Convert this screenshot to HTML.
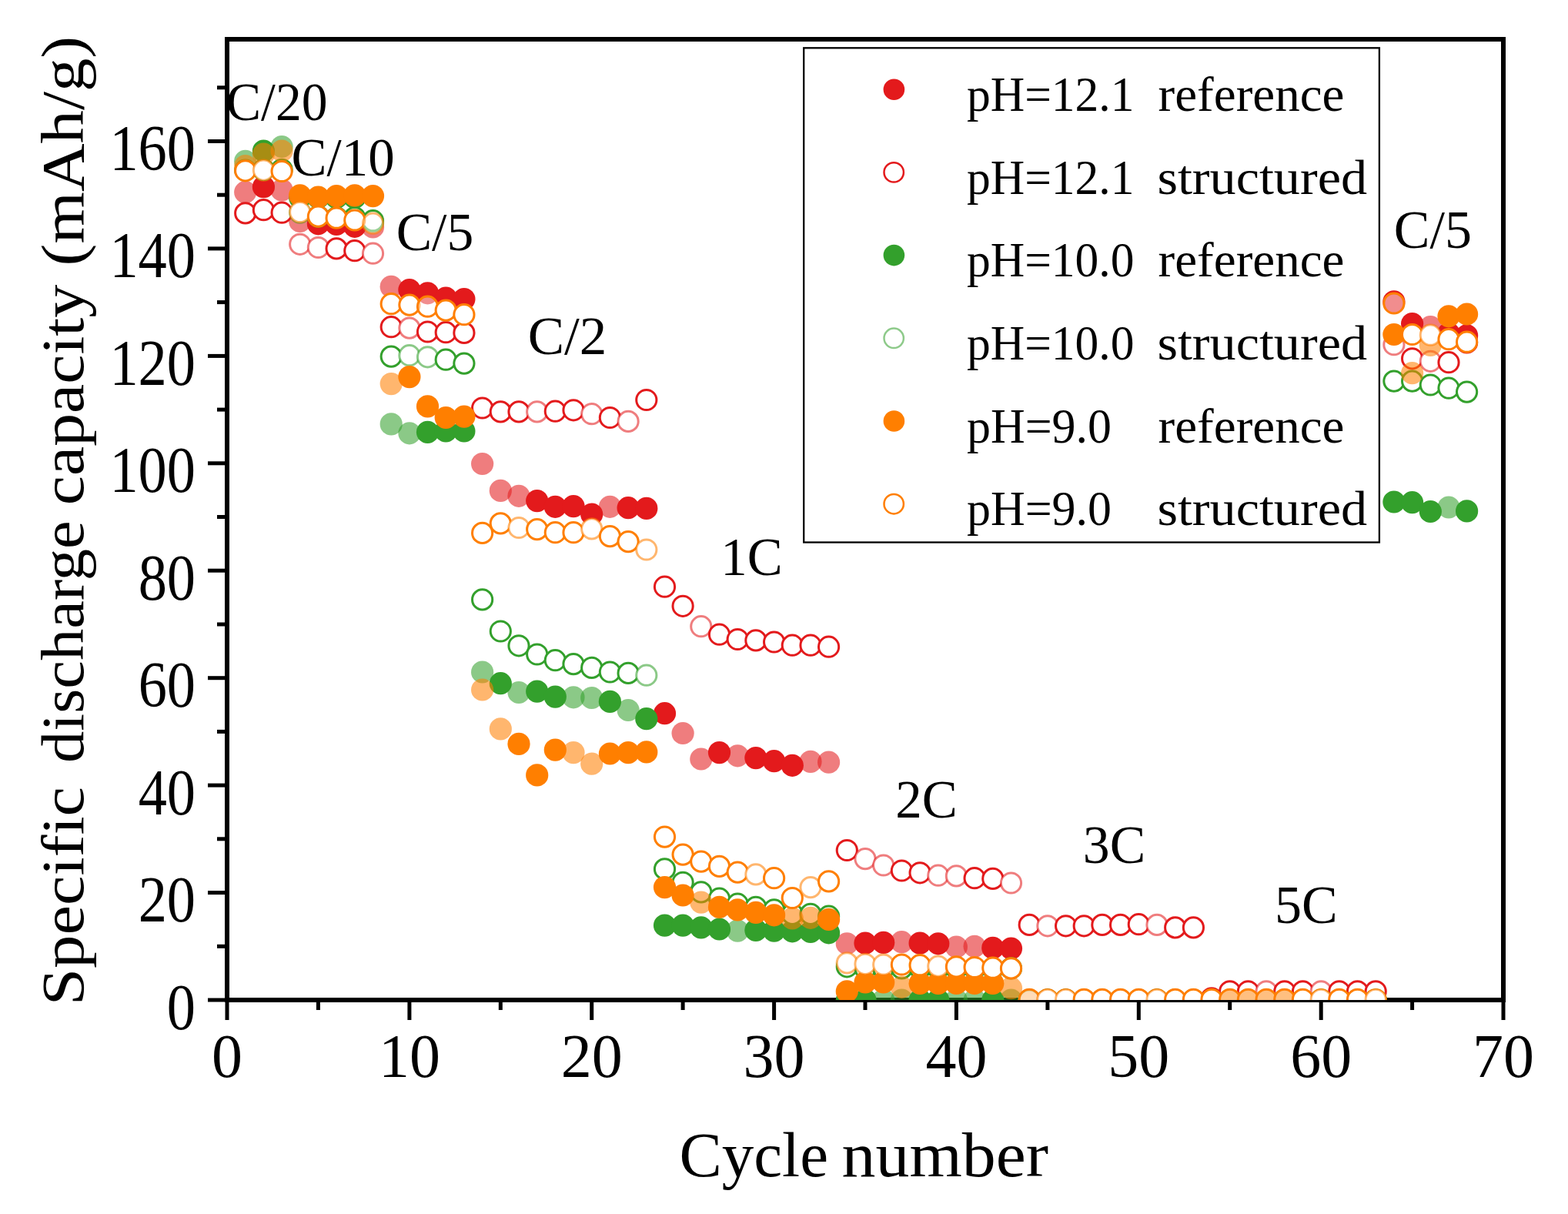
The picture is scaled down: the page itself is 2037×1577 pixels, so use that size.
<!DOCTYPE html>
<html><head><meta charset="utf-8"><title>Specific discharge capacity vs cycle number</title>
<style>html,body{margin:0;padding:0;background:#fff;overflow:hidden}svg{display:block}</style>
</head><body>
<svg width="2037" height="1577" viewBox="0 0 2037 1577">
<defs><clipPath id="pc"><rect x="295" y="51" width="1658" height="1248"/></clipPath></defs>
<rect x="0" y="0" width="2037" height="1577" fill="#fff"/>
<g fill="#000"><rect x="270" y="1296.5" width="25" height="5"/><rect x="282" y="1226.8" width="13" height="5"/><rect x="270" y="1157.1" width="25" height="5"/><rect x="282" y="1087.3" width="13" height="5"/><rect x="270" y="1017.6" width="25" height="5"/><rect x="282" y="947.9" width="13" height="5"/><rect x="270" y="878.2" width="25" height="5"/><rect x="282" y="808.5" width="13" height="5"/><rect x="270" y="738.7" width="25" height="5"/><rect x="282" y="669.0" width="13" height="5"/><rect x="270" y="599.3" width="25" height="5"/><rect x="282" y="529.6" width="13" height="5"/><rect x="270" y="459.9" width="25" height="5"/><rect x="282" y="390.1" width="13" height="5"/><rect x="270" y="320.4" width="25" height="5"/><rect x="282" y="250.7" width="13" height="5"/><rect x="270" y="181.0" width="25" height="5"/><rect x="282" y="111.3" width="13" height="5"/><rect x="292.5" y="1299" width="5" height="26"/><rect x="410.9" y="1299" width="5" height="13"/><rect x="529.4" y="1299" width="5" height="26"/><rect x="647.8" y="1299" width="5" height="13"/><rect x="766.2" y="1299" width="5" height="26"/><rect x="884.6" y="1299" width="5" height="13"/><rect x="1003.1" y="1299" width="5" height="26"/><rect x="1121.5" y="1299" width="5" height="13"/><rect x="1239.9" y="1299" width="5" height="26"/><rect x="1358.4" y="1299" width="5" height="13"/><rect x="1476.8" y="1299" width="5" height="26"/><rect x="1595.2" y="1299" width="5" height="13"/><rect x="1713.7" y="1299" width="5" height="26"/><rect x="1832.1" y="1299" width="5" height="13"/><rect x="1950.5" y="1299" width="5" height="26"/></g>
<rect x="295" y="51" width="1658" height="1248" fill="none" stroke="#000" stroke-width="6"/>
<g font-family="'Liberation Serif', 'DejaVu Serif', serif" font-size="85" fill="#000"><text transform="translate(254,1336.5) scale(0.875,1)" text-anchor="end">0</text><text transform="translate(254,1197.1) scale(0.875,1)" text-anchor="end">20</text><text transform="translate(254,1057.6) scale(0.875,1)" text-anchor="end">40</text><text transform="translate(254,918.2) scale(0.875,1)" text-anchor="end">60</text><text transform="translate(254,778.7) scale(0.875,1)" text-anchor="end">80</text><text transform="translate(254,639.3) scale(0.875,1)" text-anchor="end">100</text><text transform="translate(254,499.9) scale(0.875,1)" text-anchor="end">120</text><text transform="translate(254,360.4) scale(0.875,1)" text-anchor="end">140</text><text transform="translate(254,221.0) scale(0.875,1)" text-anchor="end">160</text></g>
<g font-family="'Liberation Serif', 'DejaVu Serif', serif" font-size="80" fill="#000"><text x="295.0" y="1399" text-anchor="middle">0</text><text x="531.9" y="1399" text-anchor="middle">10</text><text x="768.7" y="1399" text-anchor="middle">20</text><text x="1005.6" y="1399" text-anchor="middle">30</text><text x="1242.4" y="1399" text-anchor="middle">40</text><text x="1479.3" y="1399" text-anchor="middle">50</text><text x="1716.2" y="1399" text-anchor="middle">60</text><text x="1953.0" y="1399" text-anchor="middle">70</text></g>
<g font-family="'Liberation Serif', 'DejaVu Serif', serif" font-size="82"><text x="882.4" y="1528" textLength="193.6" lengthAdjust="spacingAndGlyphs">Cycle</text><text x="1093.6" y="1528" textLength="268.4" lengthAdjust="spacingAndGlyphs">number</text></g>
<g font-family="'Liberation Serif', 'DejaVu Serif', serif" font-size="78"><text transform="translate(107.5,1306.2) rotate(-90)" textLength="284.2" lengthAdjust="spacingAndGlyphs">Specific</text><text transform="translate(107.5,991.0) rotate(-90)" textLength="314.6" lengthAdjust="spacingAndGlyphs">discharge</text><text transform="translate(107.5,656.2) rotate(-90)" textLength="286.4" lengthAdjust="spacingAndGlyphs">capacity</text><text transform="translate(107.5,345.4) rotate(-90)" textLength="298.6" lengthAdjust="spacingAndGlyphs">(mAh/g)</text></g>
<g font-family="'Liberation Serif', 'DejaVu Serif', serif" font-size="69" fill="#000"><text x="294.0" y="156" textLength="131.5" lengthAdjust="spacingAndGlyphs">C/20</text><text x="378.6" y="228" textLength="134.0" lengthAdjust="spacingAndGlyphs">C/10</text><text x="514.7" y="325" textLength="100.6" lengthAdjust="spacingAndGlyphs">C/5</text><text x="685.7" y="459.8" textLength="102.6" lengthAdjust="spacingAndGlyphs">C/2</text><text x="936.2" y="747" textLength="80.4" lengthAdjust="spacingAndGlyphs">1C</text><text x="1163.2" y="1061.9" textLength="80.5" lengthAdjust="spacingAndGlyphs">2C</text><text x="1406.8" y="1120.8" textLength="81.4" lengthAdjust="spacingAndGlyphs">3C</text><text x="1656.0" y="1198.8" textLength="81.7" lengthAdjust="spacingAndGlyphs">5C</text><text x="1810.8" y="322.4" textLength="101.2" lengthAdjust="spacingAndGlyphs">C/5</text></g>
<rect x="1044.2" y="62.3" width="747.7" height="642.2" fill="#fff" stroke="#000" stroke-width="2.3"/>
<circle cx="1161.4" cy="116.2" r="13.8" fill="#e31a1c"/>
<circle cx="1161.2" cy="223.9" r="12.7" fill="#fff" stroke="#e31a1c" stroke-width="2.5"/>
<circle cx="1161.4" cy="331.6" r="13.8" fill="#33a02c"/>
<circle cx="1161.2" cy="439.3" r="12.7" fill="#fff" stroke="#33a02c" stroke-width="2.5" opacity=".55"/>
<circle cx="1161.4" cy="547.0" r="13.8" fill="#ff7f00"/>
<circle cx="1161.2" cy="654.7" r="12.7" fill="#fff" stroke="#ff7f00" stroke-width="2.5"/>
<g font-family="'Liberation Serif', 'DejaVu Serif', serif" font-size="63" fill="#000"><text x="1256" y="143.9" textLength="217.5" lengthAdjust="spacingAndGlyphs">pH=12.1</text><text x="1504.6" y="143.9" textLength="241.8" lengthAdjust="spacingAndGlyphs">reference</text><text x="1256" y="251.6" textLength="217.5" lengthAdjust="spacingAndGlyphs">pH=12.1</text><text x="1503.4" y="251.6" textLength="272.6" lengthAdjust="spacingAndGlyphs">structured</text><text x="1256" y="359.3" textLength="217.5" lengthAdjust="spacingAndGlyphs">pH=10.0</text><text x="1504.6" y="359.3" textLength="241.8" lengthAdjust="spacingAndGlyphs">reference</text><text x="1256" y="467.0" textLength="217.5" lengthAdjust="spacingAndGlyphs">pH=10.0</text><text x="1503.4" y="467.0" textLength="272.6" lengthAdjust="spacingAndGlyphs">structured</text><text x="1256" y="574.7" textLength="188" lengthAdjust="spacingAndGlyphs">pH=9.0</text><text x="1504.6" y="574.7" textLength="241.8" lengthAdjust="spacingAndGlyphs">reference</text><text x="1256" y="682.4" textLength="188" lengthAdjust="spacingAndGlyphs">pH=9.0</text><text x="1503.4" y="682.4" textLength="272.6" lengthAdjust="spacingAndGlyphs">structured</text></g>
<g clip-path="url(#pc)">
<circle cx="318.7" cy="249.7" r="14.6" fill="#e31a1c" opacity=".57"/>
<circle cx="342.4" cy="242.7" r="14.6" fill="#e31a1c"/>
<circle cx="366.1" cy="246.9" r="14.6" fill="#e31a1c" opacity=".57"/>
<circle cx="389.7" cy="287.4" r="14.6" fill="#e31a1c" opacity=".57"/>
<circle cx="413.4" cy="290.8" r="14.6" fill="#e31a1c"/>
<circle cx="437.1" cy="291.5" r="14.6" fill="#e31a1c"/>
<circle cx="460.8" cy="294.3" r="14.6" fill="#e31a1c"/>
<circle cx="484.5" cy="295.0" r="14.6" fill="#e31a1c" opacity=".57"/>
<circle cx="508.2" cy="372.4" r="14.6" fill="#e31a1c" opacity=".57"/>
<circle cx="531.9" cy="376.6" r="14.6" fill="#e31a1c"/>
<circle cx="555.5" cy="380.8" r="14.6" fill="#e31a1c"/>
<circle cx="579.2" cy="387.1" r="14.6" fill="#e31a1c"/>
<circle cx="602.9" cy="388.5" r="14.6" fill="#e31a1c"/>
<circle cx="626.6" cy="602.5" r="14.6" fill="#e31a1c" opacity=".57"/>
<circle cx="650.3" cy="637.4" r="14.6" fill="#e31a1c" opacity=".57"/>
<circle cx="674.0" cy="644.3" r="14.6" fill="#e31a1c" opacity=".57"/>
<circle cx="697.7" cy="650.6" r="14.6" fill="#e31a1c"/>
<circle cx="721.3" cy="658.3" r="14.6" fill="#e31a1c"/>
<circle cx="745.0" cy="657.6" r="14.6" fill="#e31a1c"/>
<circle cx="768.7" cy="668.0" r="14.6" fill="#e31a1c"/>
<circle cx="792.4" cy="658.3" r="14.6" fill="#e31a1c" opacity=".57"/>
<circle cx="816.1" cy="659.7" r="14.6" fill="#e31a1c"/>
<circle cx="839.8" cy="660.4" r="14.6" fill="#e31a1c"/>
<circle cx="863.5" cy="926.7" r="14.6" fill="#e31a1c"/>
<circle cx="887.1" cy="952.5" r="14.6" fill="#e31a1c" opacity=".57"/>
<circle cx="910.8" cy="986.0" r="14.6" fill="#e31a1c" opacity=".57"/>
<circle cx="934.5" cy="977.6" r="14.6" fill="#e31a1c"/>
<circle cx="958.2" cy="981.8" r="14.6" fill="#e31a1c" opacity=".57"/>
<circle cx="981.9" cy="984.6" r="14.6" fill="#e31a1c"/>
<circle cx="1005.6" cy="988.7" r="14.6" fill="#e31a1c"/>
<circle cx="1029.3" cy="994.3" r="14.6" fill="#e31a1c"/>
<circle cx="1053.0" cy="989.4" r="14.6" fill="#e31a1c" opacity=".57"/>
<circle cx="1076.6" cy="990.1" r="14.6" fill="#e31a1c" opacity=".57"/>
<circle cx="1100.3" cy="1225.8" r="14.6" fill="#e31a1c" opacity=".57"/>
<circle cx="1124.0" cy="1225.1" r="14.6" fill="#e31a1c"/>
<circle cx="1147.7" cy="1224.4" r="14.6" fill="#e31a1c"/>
<circle cx="1171.4" cy="1223.7" r="14.6" fill="#e31a1c" opacity=".57"/>
<circle cx="1195.1" cy="1225.1" r="14.6" fill="#e31a1c"/>
<circle cx="1218.8" cy="1225.8" r="14.6" fill="#e31a1c"/>
<circle cx="1242.4" cy="1230.0" r="14.6" fill="#e31a1c" opacity=".57"/>
<circle cx="1266.1" cy="1229.3" r="14.6" fill="#e31a1c" opacity=".57"/>
<circle cx="1289.8" cy="1231.4" r="14.6" fill="#e31a1c"/>
<circle cx="1313.5" cy="1232.1" r="14.6" fill="#e31a1c"/>
<circle cx="1337.2" cy="1299.0" r="14.6" fill="#e31a1c"/>
<circle cx="1360.9" cy="1299.0" r="14.6" fill="#e31a1c"/>
<circle cx="1384.6" cy="1299.0" r="14.6" fill="#e31a1c"/>
<circle cx="1408.2" cy="1299.0" r="14.6" fill="#e31a1c"/>
<circle cx="1431.9" cy="1299.0" r="14.6" fill="#e31a1c"/>
<circle cx="1455.6" cy="1299.0" r="14.6" fill="#e31a1c"/>
<circle cx="1479.3" cy="1299.0" r="14.6" fill="#e31a1c"/>
<circle cx="1503.0" cy="1299.0" r="14.6" fill="#e31a1c"/>
<circle cx="1526.7" cy="1299.0" r="14.6" fill="#e31a1c"/>
<circle cx="1550.4" cy="1299.0" r="14.6" fill="#e31a1c"/>
<circle cx="1574.0" cy="1299.0" r="14.6" fill="#e31a1c"/>
<circle cx="1597.7" cy="1299.0" r="14.6" fill="#e31a1c"/>
<circle cx="1621.4" cy="1299.0" r="14.6" fill="#e31a1c"/>
<circle cx="1645.1" cy="1299.0" r="14.6" fill="#e31a1c"/>
<circle cx="1668.8" cy="1299.0" r="14.6" fill="#e31a1c"/>
<circle cx="1692.5" cy="1299.0" r="14.6" fill="#e31a1c"/>
<circle cx="1716.2" cy="1299.0" r="14.6" fill="#e31a1c"/>
<circle cx="1739.8" cy="1299.0" r="14.6" fill="#e31a1c"/>
<circle cx="1763.5" cy="1299.0" r="14.6" fill="#e31a1c"/>
<circle cx="1787.2" cy="1299.0" r="14.6" fill="#e31a1c"/>
<circle cx="1810.9" cy="391.9" r="14.6" fill="#e31a1c"/>
<circle cx="1834.6" cy="420.5" r="14.6" fill="#e31a1c"/>
<circle cx="1858.3" cy="424.7" r="14.6" fill="#e31a1c" opacity=".57"/>
<circle cx="1882.0" cy="433.1" r="14.6" fill="#e31a1c"/>
<circle cx="1905.6" cy="435.9" r="14.6" fill="#e31a1c"/>
<circle cx="318.7" cy="276.9" r="13.1" fill="#fff" stroke="#e31a1c" stroke-width="3.0"/>
<circle cx="342.4" cy="272.7" r="13.1" fill="#fff" stroke="#e31a1c" stroke-width="3.0"/>
<circle cx="366.1" cy="276.2" r="13.1" fill="#fff" stroke="#e31a1c" stroke-width="3.0"/>
<circle cx="389.7" cy="317.3" r="13.1" fill="#fff" stroke="#e31a1c" stroke-width="3.0" stroke-opacity=".57"/>
<circle cx="413.4" cy="321.5" r="13.1" fill="#fff" stroke="#e31a1c" stroke-width="3.0" stroke-opacity=".57"/>
<circle cx="437.1" cy="322.9" r="13.1" fill="#fff" stroke="#e31a1c" stroke-width="3.0"/>
<circle cx="460.8" cy="325.7" r="13.1" fill="#fff" stroke="#e31a1c" stroke-width="3.0"/>
<circle cx="484.5" cy="329.2" r="13.1" fill="#fff" stroke="#e31a1c" stroke-width="3.0" stroke-opacity=".57"/>
<circle cx="508.2" cy="424.7" r="13.1" fill="#fff" stroke="#e31a1c" stroke-width="3.0"/>
<circle cx="531.9" cy="426.1" r="13.1" fill="#fff" stroke="#e31a1c" stroke-width="3.0" stroke-opacity=".57"/>
<circle cx="555.5" cy="431.0" r="13.1" fill="#fff" stroke="#e31a1c" stroke-width="3.0"/>
<circle cx="579.2" cy="431.7" r="13.1" fill="#fff" stroke="#e31a1c" stroke-width="3.0"/>
<circle cx="602.9" cy="432.4" r="13.1" fill="#fff" stroke="#e31a1c" stroke-width="3.0"/>
<circle cx="626.6" cy="530.0" r="13.1" fill="#fff" stroke="#e31a1c" stroke-width="3.0"/>
<circle cx="650.3" cy="534.9" r="13.1" fill="#fff" stroke="#e31a1c" stroke-width="3.0"/>
<circle cx="674.0" cy="534.9" r="13.1" fill="#fff" stroke="#e31a1c" stroke-width="3.0"/>
<circle cx="697.7" cy="534.9" r="13.1" fill="#fff" stroke="#e31a1c" stroke-width="3.0" stroke-opacity=".57"/>
<circle cx="721.3" cy="534.2" r="13.1" fill="#fff" stroke="#e31a1c" stroke-width="3.0"/>
<circle cx="745.0" cy="532.8" r="13.1" fill="#fff" stroke="#e31a1c" stroke-width="3.0"/>
<circle cx="768.7" cy="537.7" r="13.1" fill="#fff" stroke="#e31a1c" stroke-width="3.0" stroke-opacity=".57"/>
<circle cx="792.4" cy="542.5" r="13.1" fill="#fff" stroke="#e31a1c" stroke-width="3.0"/>
<circle cx="816.1" cy="547.4" r="13.1" fill="#fff" stroke="#e31a1c" stroke-width="3.0" stroke-opacity=".57"/>
<circle cx="839.8" cy="519.5" r="13.1" fill="#fff" stroke="#e31a1c" stroke-width="3.0"/>
<circle cx="863.5" cy="762.2" r="13.1" fill="#fff" stroke="#e31a1c" stroke-width="3.0"/>
<circle cx="887.1" cy="787.3" r="13.1" fill="#fff" stroke="#e31a1c" stroke-width="3.0"/>
<circle cx="910.8" cy="813.7" r="13.1" fill="#fff" stroke="#e31a1c" stroke-width="3.0" stroke-opacity=".57"/>
<circle cx="934.5" cy="824.2" r="13.1" fill="#fff" stroke="#e31a1c" stroke-width="3.0"/>
<circle cx="958.2" cy="830.5" r="13.1" fill="#fff" stroke="#e31a1c" stroke-width="3.0"/>
<circle cx="981.9" cy="831.9" r="13.1" fill="#fff" stroke="#e31a1c" stroke-width="3.0"/>
<circle cx="1005.6" cy="834.0" r="13.1" fill="#fff" stroke="#e31a1c" stroke-width="3.0"/>
<circle cx="1029.3" cy="838.2" r="13.1" fill="#fff" stroke="#e31a1c" stroke-width="3.0"/>
<circle cx="1053.0" cy="838.2" r="13.1" fill="#fff" stroke="#e31a1c" stroke-width="3.0"/>
<circle cx="1076.6" cy="840.2" r="13.1" fill="#fff" stroke="#e31a1c" stroke-width="3.0"/>
<circle cx="1100.3" cy="1104.5" r="13.1" fill="#fff" stroke="#e31a1c" stroke-width="3.0"/>
<circle cx="1124.0" cy="1115.6" r="13.1" fill="#fff" stroke="#e31a1c" stroke-width="3.0" stroke-opacity=".57"/>
<circle cx="1147.7" cy="1124.0" r="13.1" fill="#fff" stroke="#e31a1c" stroke-width="3.0" stroke-opacity=".57"/>
<circle cx="1171.4" cy="1131.0" r="13.1" fill="#fff" stroke="#e31a1c" stroke-width="3.0"/>
<circle cx="1195.1" cy="1133.8" r="13.1" fill="#fff" stroke="#e31a1c" stroke-width="3.0"/>
<circle cx="1218.8" cy="1137.2" r="13.1" fill="#fff" stroke="#e31a1c" stroke-width="3.0" stroke-opacity=".57"/>
<circle cx="1242.4" cy="1137.9" r="13.1" fill="#fff" stroke="#e31a1c" stroke-width="3.0" stroke-opacity=".57"/>
<circle cx="1266.1" cy="1140.7" r="13.1" fill="#fff" stroke="#e31a1c" stroke-width="3.0"/>
<circle cx="1289.8" cy="1141.4" r="13.1" fill="#fff" stroke="#e31a1c" stroke-width="3.0"/>
<circle cx="1313.5" cy="1147.0" r="13.1" fill="#fff" stroke="#e31a1c" stroke-width="3.0" stroke-opacity=".57"/>
<circle cx="1337.2" cy="1201.4" r="13.1" fill="#fff" stroke="#e31a1c" stroke-width="3.0"/>
<circle cx="1360.9" cy="1202.8" r="13.1" fill="#fff" stroke="#e31a1c" stroke-width="3.0" stroke-opacity=".57"/>
<circle cx="1384.6" cy="1202.8" r="13.1" fill="#fff" stroke="#e31a1c" stroke-width="3.0"/>
<circle cx="1408.2" cy="1202.8" r="13.1" fill="#fff" stroke="#e31a1c" stroke-width="3.0"/>
<circle cx="1431.9" cy="1201.4" r="13.1" fill="#fff" stroke="#e31a1c" stroke-width="3.0"/>
<circle cx="1455.6" cy="1201.4" r="13.1" fill="#fff" stroke="#e31a1c" stroke-width="3.0"/>
<circle cx="1479.3" cy="1200.7" r="13.1" fill="#fff" stroke="#e31a1c" stroke-width="3.0"/>
<circle cx="1503.0" cy="1201.4" r="13.1" fill="#fff" stroke="#e31a1c" stroke-width="3.0" stroke-opacity=".57"/>
<circle cx="1526.7" cy="1204.9" r="13.1" fill="#fff" stroke="#e31a1c" stroke-width="3.0"/>
<circle cx="1550.4" cy="1204.9" r="13.1" fill="#fff" stroke="#e31a1c" stroke-width="3.0"/>
<circle cx="1574.0" cy="1296.9" r="13.1" fill="#fff" stroke="#e31a1c" stroke-width="3.0"/>
<circle cx="1597.7" cy="1287.8" r="13.1" fill="#fff" stroke="#e31a1c" stroke-width="3.0"/>
<circle cx="1621.4" cy="1287.8" r="13.1" fill="#fff" stroke="#e31a1c" stroke-width="3.0"/>
<circle cx="1645.1" cy="1287.8" r="13.1" fill="#fff" stroke="#e31a1c" stroke-width="3.0" stroke-opacity=".57"/>
<circle cx="1668.8" cy="1287.8" r="13.1" fill="#fff" stroke="#e31a1c" stroke-width="3.0"/>
<circle cx="1692.5" cy="1287.8" r="13.1" fill="#fff" stroke="#e31a1c" stroke-width="3.0"/>
<circle cx="1716.2" cy="1287.8" r="13.1" fill="#fff" stroke="#e31a1c" stroke-width="3.0" stroke-opacity=".57"/>
<circle cx="1739.8" cy="1287.8" r="13.1" fill="#fff" stroke="#e31a1c" stroke-width="3.0"/>
<circle cx="1763.5" cy="1287.8" r="13.1" fill="#fff" stroke="#e31a1c" stroke-width="3.0"/>
<circle cx="1787.2" cy="1287.8" r="13.1" fill="#fff" stroke="#e31a1c" stroke-width="3.0"/>
<circle cx="1810.9" cy="447.7" r="13.1" fill="#fff" stroke="#e31a1c" stroke-width="3.0" stroke-opacity=".57"/>
<circle cx="1834.6" cy="465.8" r="13.1" fill="#fff" stroke="#e31a1c" stroke-width="3.0"/>
<circle cx="1858.3" cy="469.3" r="13.1" fill="#fff" stroke="#e31a1c" stroke-width="3.0" stroke-opacity=".57"/>
<circle cx="1882.0" cy="470.7" r="13.1" fill="#fff" stroke="#e31a1c" stroke-width="3.0"/>
<circle cx="1905.6" cy="444.9" r="13.1" fill="#fff" stroke="#e31a1c" stroke-width="3.0"/>
<circle cx="318.7" cy="209.3" r="14.6" fill="#33a02c" opacity=".57"/>
<circle cx="342.4" cy="196.0" r="14.6" fill="#33a02c"/>
<circle cx="366.1" cy="190.5" r="14.6" fill="#33a02c" opacity=".57"/>
<circle cx="389.7" cy="256.7" r="14.6" fill="#33a02c"/>
<circle cx="413.4" cy="256.7" r="14.6" fill="#33a02c"/>
<circle cx="437.1" cy="256.7" r="14.6" fill="#33a02c"/>
<circle cx="460.8" cy="256.7" r="14.6" fill="#33a02c"/>
<circle cx="484.5" cy="288.1" r="14.6" fill="#33a02c" opacity=".57"/>
<circle cx="508.2" cy="550.9" r="14.6" fill="#33a02c" opacity=".57"/>
<circle cx="531.9" cy="562.8" r="14.6" fill="#33a02c" opacity=".57"/>
<circle cx="555.5" cy="561.4" r="14.6" fill="#33a02c"/>
<circle cx="579.2" cy="560.0" r="14.6" fill="#33a02c"/>
<circle cx="602.9" cy="560.0" r="14.6" fill="#33a02c"/>
<circle cx="626.6" cy="873.0" r="14.6" fill="#33a02c" opacity=".57"/>
<circle cx="650.3" cy="887.7" r="14.6" fill="#33a02c"/>
<circle cx="674.0" cy="899.5" r="14.6" fill="#33a02c" opacity=".57"/>
<circle cx="697.7" cy="898.1" r="14.6" fill="#33a02c"/>
<circle cx="721.3" cy="905.1" r="14.6" fill="#33a02c"/>
<circle cx="745.0" cy="905.8" r="14.6" fill="#33a02c" opacity=".57"/>
<circle cx="768.7" cy="906.5" r="14.6" fill="#33a02c" opacity=".57"/>
<circle cx="792.4" cy="911.4" r="14.6" fill="#33a02c"/>
<circle cx="816.1" cy="922.5" r="14.6" fill="#33a02c" opacity=".57"/>
<circle cx="839.8" cy="933.7" r="14.6" fill="#33a02c"/>
<circle cx="863.5" cy="1202.1" r="14.6" fill="#33a02c"/>
<circle cx="887.1" cy="1202.1" r="14.6" fill="#33a02c"/>
<circle cx="910.8" cy="1204.9" r="14.6" fill="#33a02c"/>
<circle cx="934.5" cy="1207.0" r="14.6" fill="#33a02c"/>
<circle cx="958.2" cy="1209.1" r="14.6" fill="#33a02c" opacity=".57"/>
<circle cx="981.9" cy="1208.4" r="14.6" fill="#33a02c"/>
<circle cx="1005.6" cy="1209.1" r="14.6" fill="#33a02c"/>
<circle cx="1029.3" cy="1209.8" r="14.6" fill="#33a02c"/>
<circle cx="1053.0" cy="1210.5" r="14.6" fill="#33a02c"/>
<circle cx="1076.6" cy="1211.8" r="14.6" fill="#33a02c"/>
<circle cx="1100.3" cy="1299.0" r="14.6" fill="#33a02c"/>
<circle cx="1124.0" cy="1299.0" r="14.6" fill="#33a02c"/>
<circle cx="1147.7" cy="1299.0" r="14.6" fill="#33a02c" opacity=".57"/>
<circle cx="1171.4" cy="1299.0" r="14.6" fill="#33a02c" opacity=".57"/>
<circle cx="1195.1" cy="1299.0" r="14.6" fill="#33a02c"/>
<circle cx="1218.8" cy="1299.0" r="14.6" fill="#33a02c"/>
<circle cx="1242.4" cy="1299.0" r="14.6" fill="#33a02c" opacity=".57"/>
<circle cx="1266.1" cy="1299.0" r="14.6" fill="#33a02c" opacity=".57"/>
<circle cx="1289.8" cy="1299.0" r="14.6" fill="#33a02c"/>
<circle cx="1313.5" cy="1299.0" r="14.6" fill="#33a02c" opacity=".57"/>
<circle cx="1337.2" cy="1299.0" r="14.6" fill="#33a02c"/>
<circle cx="1360.9" cy="1299.0" r="14.6" fill="#33a02c"/>
<circle cx="1384.6" cy="1299.0" r="14.6" fill="#33a02c"/>
<circle cx="1408.2" cy="1299.0" r="14.6" fill="#33a02c"/>
<circle cx="1431.9" cy="1299.0" r="14.6" fill="#33a02c"/>
<circle cx="1455.6" cy="1299.0" r="14.6" fill="#33a02c"/>
<circle cx="1479.3" cy="1299.0" r="14.6" fill="#33a02c"/>
<circle cx="1503.0" cy="1299.0" r="14.6" fill="#33a02c"/>
<circle cx="1526.7" cy="1299.0" r="14.6" fill="#33a02c"/>
<circle cx="1550.4" cy="1299.0" r="14.6" fill="#33a02c"/>
<circle cx="1574.0" cy="1299.0" r="14.6" fill="#33a02c"/>
<circle cx="1597.7" cy="1299.0" r="14.6" fill="#33a02c"/>
<circle cx="1621.4" cy="1299.0" r="14.6" fill="#33a02c"/>
<circle cx="1645.1" cy="1299.0" r="14.6" fill="#33a02c"/>
<circle cx="1668.8" cy="1299.0" r="14.6" fill="#33a02c"/>
<circle cx="1692.5" cy="1299.0" r="14.6" fill="#33a02c"/>
<circle cx="1716.2" cy="1299.0" r="14.6" fill="#33a02c"/>
<circle cx="1739.8" cy="1299.0" r="14.6" fill="#33a02c"/>
<circle cx="1763.5" cy="1299.0" r="14.6" fill="#33a02c"/>
<circle cx="1787.2" cy="1299.0" r="14.6" fill="#33a02c"/>
<circle cx="1810.9" cy="652.0" r="14.6" fill="#33a02c"/>
<circle cx="1834.6" cy="652.7" r="14.6" fill="#33a02c"/>
<circle cx="1858.3" cy="664.5" r="14.6" fill="#33a02c"/>
<circle cx="1882.0" cy="659.0" r="14.6" fill="#33a02c" opacity=".57"/>
<circle cx="1905.6" cy="663.9" r="14.6" fill="#33a02c"/>
<circle cx="318.7" cy="221.1" r="13.1" fill="#fff" stroke="#33a02c" stroke-width="3.0"/>
<circle cx="342.4" cy="220.4" r="13.1" fill="#fff" stroke="#33a02c" stroke-width="3.0"/>
<circle cx="366.1" cy="220.4" r="13.1" fill="#fff" stroke="#33a02c" stroke-width="3.0"/>
<circle cx="389.7" cy="276.2" r="13.1" fill="#fff" stroke="#33a02c" stroke-width="3.0" stroke-opacity=".57"/>
<circle cx="413.4" cy="281.1" r="13.1" fill="#fff" stroke="#33a02c" stroke-width="3.0"/>
<circle cx="437.1" cy="282.5" r="13.1" fill="#fff" stroke="#33a02c" stroke-width="3.0"/>
<circle cx="460.8" cy="282.5" r="13.1" fill="#fff" stroke="#33a02c" stroke-width="3.0"/>
<circle cx="484.5" cy="286.7" r="13.1" fill="#fff" stroke="#33a02c" stroke-width="3.0"/>
<circle cx="508.2" cy="463.1" r="13.1" fill="#fff" stroke="#33a02c" stroke-width="3.0"/>
<circle cx="531.9" cy="461.7" r="13.1" fill="#fff" stroke="#33a02c" stroke-width="3.0" stroke-opacity=".57"/>
<circle cx="555.5" cy="463.8" r="13.1" fill="#fff" stroke="#33a02c" stroke-width="3.0" stroke-opacity=".57"/>
<circle cx="579.2" cy="467.2" r="13.1" fill="#fff" stroke="#33a02c" stroke-width="3.0"/>
<circle cx="602.9" cy="472.1" r="13.1" fill="#fff" stroke="#33a02c" stroke-width="3.0"/>
<circle cx="626.6" cy="778.9" r="13.1" fill="#fff" stroke="#33a02c" stroke-width="3.0"/>
<circle cx="650.3" cy="820.0" r="13.1" fill="#fff" stroke="#33a02c" stroke-width="3.0"/>
<circle cx="674.0" cy="838.8" r="13.1" fill="#fff" stroke="#33a02c" stroke-width="3.0"/>
<circle cx="697.7" cy="850.0" r="13.1" fill="#fff" stroke="#33a02c" stroke-width="3.0"/>
<circle cx="721.3" cy="857.7" r="13.1" fill="#fff" stroke="#33a02c" stroke-width="3.0"/>
<circle cx="745.0" cy="862.6" r="13.1" fill="#fff" stroke="#33a02c" stroke-width="3.0"/>
<circle cx="768.7" cy="867.4" r="13.1" fill="#fff" stroke="#33a02c" stroke-width="3.0"/>
<circle cx="792.4" cy="873.0" r="13.1" fill="#fff" stroke="#33a02c" stroke-width="3.0"/>
<circle cx="816.1" cy="874.4" r="13.1" fill="#fff" stroke="#33a02c" stroke-width="3.0"/>
<circle cx="839.8" cy="877.2" r="13.1" fill="#fff" stroke="#33a02c" stroke-width="3.0" stroke-opacity=".57"/>
<circle cx="863.5" cy="1128.9" r="13.1" fill="#fff" stroke="#33a02c" stroke-width="3.0"/>
<circle cx="887.1" cy="1146.3" r="13.1" fill="#fff" stroke="#33a02c" stroke-width="3.0"/>
<circle cx="910.8" cy="1158.9" r="13.1" fill="#fff" stroke="#33a02c" stroke-width="3.0"/>
<circle cx="934.5" cy="1167.2" r="13.1" fill="#fff" stroke="#33a02c" stroke-width="3.0"/>
<circle cx="958.2" cy="1174.2" r="13.1" fill="#fff" stroke="#33a02c" stroke-width="3.0"/>
<circle cx="981.9" cy="1178.4" r="13.1" fill="#fff" stroke="#33a02c" stroke-width="3.0"/>
<circle cx="1005.6" cy="1181.9" r="13.1" fill="#fff" stroke="#33a02c" stroke-width="3.0"/>
<circle cx="1029.3" cy="1187.4" r="13.1" fill="#fff" stroke="#33a02c" stroke-width="3.0"/>
<circle cx="1053.0" cy="1187.4" r="13.1" fill="#fff" stroke="#33a02c" stroke-width="3.0"/>
<circle cx="1076.6" cy="1190.2" r="13.1" fill="#fff" stroke="#33a02c" stroke-width="3.0"/>
<circle cx="1100.3" cy="1255.8" r="13.1" fill="#fff" stroke="#33a02c" stroke-width="3.0"/>
<circle cx="1124.0" cy="1257.9" r="13.1" fill="#fff" stroke="#33a02c" stroke-width="3.0"/>
<circle cx="1147.7" cy="1257.9" r="13.1" fill="#fff" stroke="#33a02c" stroke-width="3.0"/>
<circle cx="1171.4" cy="1257.9" r="13.1" fill="#fff" stroke="#33a02c" stroke-width="3.0"/>
<circle cx="1195.1" cy="1257.9" r="13.1" fill="#fff" stroke="#33a02c" stroke-width="3.0"/>
<circle cx="1218.8" cy="1257.9" r="13.1" fill="#fff" stroke="#33a02c" stroke-width="3.0"/>
<circle cx="1242.4" cy="1257.9" r="13.1" fill="#fff" stroke="#33a02c" stroke-width="3.0"/>
<circle cx="1266.1" cy="1257.9" r="13.1" fill="#fff" stroke="#33a02c" stroke-width="3.0"/>
<circle cx="1289.8" cy="1257.9" r="13.1" fill="#fff" stroke="#33a02c" stroke-width="3.0"/>
<circle cx="1313.5" cy="1257.9" r="13.1" fill="#fff" stroke="#33a02c" stroke-width="3.0"/>
<circle cx="1337.2" cy="1299.0" r="13.1" fill="#fff" stroke="#33a02c" stroke-width="3.0"/>
<circle cx="1360.9" cy="1299.0" r="13.1" fill="#fff" stroke="#33a02c" stroke-width="3.0"/>
<circle cx="1384.6" cy="1299.0" r="13.1" fill="#fff" stroke="#33a02c" stroke-width="3.0"/>
<circle cx="1408.2" cy="1299.0" r="13.1" fill="#fff" stroke="#33a02c" stroke-width="3.0"/>
<circle cx="1431.9" cy="1299.0" r="13.1" fill="#fff" stroke="#33a02c" stroke-width="3.0"/>
<circle cx="1455.6" cy="1299.0" r="13.1" fill="#fff" stroke="#33a02c" stroke-width="3.0"/>
<circle cx="1479.3" cy="1299.0" r="13.1" fill="#fff" stroke="#33a02c" stroke-width="3.0"/>
<circle cx="1503.0" cy="1299.0" r="13.1" fill="#fff" stroke="#33a02c" stroke-width="3.0"/>
<circle cx="1526.7" cy="1299.0" r="13.1" fill="#fff" stroke="#33a02c" stroke-width="3.0"/>
<circle cx="1550.4" cy="1299.0" r="13.1" fill="#fff" stroke="#33a02c" stroke-width="3.0"/>
<circle cx="1574.0" cy="1299.0" r="13.1" fill="#fff" stroke="#33a02c" stroke-width="3.0"/>
<circle cx="1597.7" cy="1299.0" r="13.1" fill="#fff" stroke="#33a02c" stroke-width="3.0"/>
<circle cx="1621.4" cy="1299.0" r="13.1" fill="#fff" stroke="#33a02c" stroke-width="3.0"/>
<circle cx="1645.1" cy="1299.0" r="13.1" fill="#fff" stroke="#33a02c" stroke-width="3.0"/>
<circle cx="1668.8" cy="1299.0" r="13.1" fill="#fff" stroke="#33a02c" stroke-width="3.0"/>
<circle cx="1692.5" cy="1299.0" r="13.1" fill="#fff" stroke="#33a02c" stroke-width="3.0"/>
<circle cx="1716.2" cy="1299.0" r="13.1" fill="#fff" stroke="#33a02c" stroke-width="3.0"/>
<circle cx="1739.8" cy="1299.0" r="13.1" fill="#fff" stroke="#33a02c" stroke-width="3.0"/>
<circle cx="1763.5" cy="1299.0" r="13.1" fill="#fff" stroke="#33a02c" stroke-width="3.0"/>
<circle cx="1787.2" cy="1299.0" r="13.1" fill="#fff" stroke="#33a02c" stroke-width="3.0"/>
<circle cx="1810.9" cy="495.1" r="13.1" fill="#fff" stroke="#33a02c" stroke-width="3.0"/>
<circle cx="1834.6" cy="495.1" r="13.1" fill="#fff" stroke="#33a02c" stroke-width="3.0"/>
<circle cx="1858.3" cy="500.0" r="13.1" fill="#fff" stroke="#33a02c" stroke-width="3.0"/>
<circle cx="1882.0" cy="504.2" r="13.1" fill="#fff" stroke="#33a02c" stroke-width="3.0"/>
<circle cx="1905.6" cy="509.1" r="13.1" fill="#fff" stroke="#33a02c" stroke-width="3.0"/>
<circle cx="318.7" cy="215.6" r="14.6" fill="#ff7f00" opacity=".57"/>
<circle cx="342.4" cy="200.2" r="14.6" fill="#ff7f00" opacity=".57"/>
<circle cx="366.1" cy="196.0" r="14.6" fill="#ff7f00" opacity=".57"/>
<circle cx="389.7" cy="253.9" r="14.6" fill="#ff7f00"/>
<circle cx="413.4" cy="256.0" r="14.6" fill="#ff7f00"/>
<circle cx="437.1" cy="254.6" r="14.6" fill="#ff7f00"/>
<circle cx="460.8" cy="253.9" r="14.6" fill="#ff7f00"/>
<circle cx="484.5" cy="254.6" r="14.6" fill="#ff7f00"/>
<circle cx="508.2" cy="498.6" r="14.6" fill="#ff7f00" opacity=".57"/>
<circle cx="531.9" cy="489.6" r="14.6" fill="#ff7f00"/>
<circle cx="555.5" cy="527.9" r="14.6" fill="#ff7f00"/>
<circle cx="579.2" cy="542.5" r="14.6" fill="#ff7f00"/>
<circle cx="602.9" cy="541.1" r="14.6" fill="#ff7f00"/>
<circle cx="626.6" cy="896.0" r="14.6" fill="#ff7f00" opacity=".57"/>
<circle cx="650.3" cy="946.9" r="14.6" fill="#ff7f00" opacity=".57"/>
<circle cx="674.0" cy="966.4" r="14.6" fill="#ff7f00"/>
<circle cx="697.7" cy="1006.9" r="14.6" fill="#ff7f00"/>
<circle cx="721.3" cy="974.1" r="14.6" fill="#ff7f00"/>
<circle cx="745.0" cy="977.6" r="14.6" fill="#ff7f00" opacity=".57"/>
<circle cx="768.7" cy="992.2" r="14.6" fill="#ff7f00" opacity=".57"/>
<circle cx="792.4" cy="979.0" r="14.6" fill="#ff7f00"/>
<circle cx="816.1" cy="977.6" r="14.6" fill="#ff7f00"/>
<circle cx="839.8" cy="976.9" r="14.6" fill="#ff7f00"/>
<circle cx="863.5" cy="1152.6" r="14.6" fill="#ff7f00"/>
<circle cx="887.1" cy="1163.0" r="14.6" fill="#ff7f00"/>
<circle cx="910.8" cy="1172.1" r="14.6" fill="#ff7f00" opacity=".57"/>
<circle cx="934.5" cy="1178.4" r="14.6" fill="#ff7f00"/>
<circle cx="958.2" cy="1181.9" r="14.6" fill="#ff7f00"/>
<circle cx="981.9" cy="1185.4" r="14.6" fill="#ff7f00"/>
<circle cx="1005.6" cy="1188.8" r="14.6" fill="#ff7f00"/>
<circle cx="1029.3" cy="1193.0" r="14.6" fill="#ff7f00" opacity=".57"/>
<circle cx="1053.0" cy="1192.3" r="14.6" fill="#ff7f00" opacity=".57"/>
<circle cx="1076.6" cy="1194.4" r="14.6" fill="#ff7f00"/>
<circle cx="1100.3" cy="1287.8" r="14.6" fill="#ff7f00"/>
<circle cx="1124.0" cy="1276.0" r="14.6" fill="#ff7f00"/>
<circle cx="1147.7" cy="1276.0" r="14.6" fill="#ff7f00"/>
<circle cx="1171.4" cy="1282.3" r="14.6" fill="#ff7f00" opacity=".57"/>
<circle cx="1195.1" cy="1277.4" r="14.6" fill="#ff7f00"/>
<circle cx="1218.8" cy="1277.4" r="14.6" fill="#ff7f00"/>
<circle cx="1242.4" cy="1277.4" r="14.6" fill="#ff7f00"/>
<circle cx="1266.1" cy="1277.4" r="14.6" fill="#ff7f00"/>
<circle cx="1289.8" cy="1277.4" r="14.6" fill="#ff7f00"/>
<circle cx="1313.5" cy="1283.7" r="14.6" fill="#ff7f00" opacity=".57"/>
<circle cx="1337.2" cy="1299.0" r="14.6" fill="#ff7f00" opacity=".57"/>
<circle cx="1360.9" cy="1299.0" r="14.6" fill="#ff7f00"/>
<circle cx="1384.6" cy="1299.0" r="14.6" fill="#ff7f00"/>
<circle cx="1408.2" cy="1299.0" r="14.6" fill="#ff7f00"/>
<circle cx="1431.9" cy="1299.0" r="14.6" fill="#ff7f00"/>
<circle cx="1455.6" cy="1299.0" r="14.6" fill="#ff7f00"/>
<circle cx="1479.3" cy="1299.0" r="14.6" fill="#ff7f00"/>
<circle cx="1503.0" cy="1299.0" r="14.6" fill="#ff7f00"/>
<circle cx="1526.7" cy="1299.0" r="14.6" fill="#ff7f00"/>
<circle cx="1550.4" cy="1299.0" r="14.6" fill="#ff7f00"/>
<circle cx="1574.0" cy="1299.0" r="14.6" fill="#ff7f00"/>
<circle cx="1597.7" cy="1299.0" r="14.6" fill="#ff7f00"/>
<circle cx="1621.4" cy="1299.0" r="14.6" fill="#ff7f00"/>
<circle cx="1645.1" cy="1299.0" r="14.6" fill="#ff7f00"/>
<circle cx="1668.8" cy="1299.0" r="14.6" fill="#ff7f00"/>
<circle cx="1692.5" cy="1299.0" r="14.6" fill="#ff7f00"/>
<circle cx="1716.2" cy="1299.0" r="14.6" fill="#ff7f00"/>
<circle cx="1739.8" cy="1299.0" r="14.6" fill="#ff7f00"/>
<circle cx="1763.5" cy="1299.0" r="14.6" fill="#ff7f00"/>
<circle cx="1787.2" cy="1299.0" r="14.6" fill="#ff7f00"/>
<circle cx="1810.9" cy="434.5" r="14.6" fill="#ff7f00"/>
<circle cx="1834.6" cy="484.7" r="14.6" fill="#ff7f00" opacity=".57"/>
<circle cx="1858.3" cy="448.4" r="14.6" fill="#ff7f00" opacity=".57"/>
<circle cx="1882.0" cy="410.8" r="14.6" fill="#ff7f00"/>
<circle cx="1905.6" cy="408.0" r="14.6" fill="#ff7f00"/>
<circle cx="318.7" cy="221.8" r="13.1" fill="#fff" stroke="#ff7f00" stroke-width="3.0"/>
<circle cx="342.4" cy="221.1" r="13.1" fill="#fff" stroke="#ff7f00" stroke-width="3.0" stroke-opacity=".57"/>
<circle cx="366.1" cy="222.5" r="13.1" fill="#fff" stroke="#ff7f00" stroke-width="3.0"/>
<circle cx="389.7" cy="275.5" r="13.1" fill="#fff" stroke="#ff7f00" stroke-width="3.0" stroke-opacity=".57"/>
<circle cx="413.4" cy="281.1" r="13.1" fill="#fff" stroke="#ff7f00" stroke-width="3.0"/>
<circle cx="437.1" cy="283.2" r="13.1" fill="#fff" stroke="#ff7f00" stroke-width="3.0"/>
<circle cx="460.8" cy="286.0" r="13.1" fill="#fff" stroke="#ff7f00" stroke-width="3.0"/>
<circle cx="484.5" cy="290.2" r="13.1" fill="#fff" fill-opacity=".5" stroke="#ff7f00" stroke-width="3.0" stroke-opacity=".57"/>
<circle cx="508.2" cy="394.7" r="13.1" fill="#fff" stroke="#ff7f00" stroke-width="3.0"/>
<circle cx="531.9" cy="396.1" r="13.1" fill="#fff" stroke="#ff7f00" stroke-width="3.0"/>
<circle cx="555.5" cy="398.2" r="13.1" fill="#fff" fill-opacity=".5" stroke="#ff7f00" stroke-width="3.0"/>
<circle cx="579.2" cy="403.1" r="13.1" fill="#fff" stroke="#ff7f00" stroke-width="3.0"/>
<circle cx="602.9" cy="408.7" r="13.1" fill="#fff" stroke="#ff7f00" stroke-width="3.0"/>
<circle cx="626.6" cy="692.4" r="13.1" fill="#fff" stroke="#ff7f00" stroke-width="3.0"/>
<circle cx="650.3" cy="679.9" r="13.1" fill="#fff" stroke="#ff7f00" stroke-width="3.0"/>
<circle cx="674.0" cy="685.5" r="13.1" fill="#fff" stroke="#ff7f00" stroke-width="3.0" stroke-opacity=".57"/>
<circle cx="697.7" cy="687.6" r="13.1" fill="#fff" stroke="#ff7f00" stroke-width="3.0"/>
<circle cx="721.3" cy="691.7" r="13.1" fill="#fff" stroke="#ff7f00" stroke-width="3.0"/>
<circle cx="745.0" cy="691.7" r="13.1" fill="#fff" stroke="#ff7f00" stroke-width="3.0"/>
<circle cx="768.7" cy="686.9" r="13.1" fill="#fff" stroke="#ff7f00" stroke-width="3.0" stroke-opacity=".57"/>
<circle cx="792.4" cy="696.6" r="13.1" fill="#fff" stroke="#ff7f00" stroke-width="3.0"/>
<circle cx="816.1" cy="703.6" r="13.1" fill="#fff" stroke="#ff7f00" stroke-width="3.0"/>
<circle cx="839.8" cy="714.0" r="13.1" fill="#fff" stroke="#ff7f00" stroke-width="3.0" stroke-opacity=".57"/>
<circle cx="863.5" cy="1087.1" r="13.1" fill="#fff" stroke="#ff7f00" stroke-width="3.0"/>
<circle cx="887.1" cy="1110.1" r="13.1" fill="#fff" stroke="#ff7f00" stroke-width="3.0"/>
<circle cx="910.8" cy="1119.1" r="13.1" fill="#fff" stroke="#ff7f00" stroke-width="3.0"/>
<circle cx="934.5" cy="1125.4" r="13.1" fill="#fff" stroke="#ff7f00" stroke-width="3.0"/>
<circle cx="958.2" cy="1133.1" r="13.1" fill="#fff" stroke="#ff7f00" stroke-width="3.0"/>
<circle cx="981.9" cy="1135.9" r="13.1" fill="#fff" stroke="#ff7f00" stroke-width="3.0" stroke-opacity=".57"/>
<circle cx="1005.6" cy="1140.7" r="13.1" fill="#fff" stroke="#ff7f00" stroke-width="3.0"/>
<circle cx="1029.3" cy="1166.5" r="13.1" fill="#fff" stroke="#ff7f00" stroke-width="3.0"/>
<circle cx="1053.0" cy="1152.6" r="13.1" fill="#fff" stroke="#ff7f00" stroke-width="3.0" stroke-opacity=".57"/>
<circle cx="1076.6" cy="1144.9" r="13.1" fill="#fff" stroke="#ff7f00" stroke-width="3.0"/>
<circle cx="1100.3" cy="1250.9" r="13.1" fill="#fff" stroke="#ff7f00" stroke-width="3.0" stroke-opacity=".57"/>
<circle cx="1124.0" cy="1252.3" r="13.1" fill="#fff" stroke="#ff7f00" stroke-width="3.0" stroke-opacity=".57"/>
<circle cx="1147.7" cy="1253.0" r="13.1" fill="#fff" stroke="#ff7f00" stroke-width="3.0" stroke-opacity=".57"/>
<circle cx="1171.4" cy="1253.0" r="13.1" fill="#fff" stroke="#ff7f00" stroke-width="3.0"/>
<circle cx="1195.1" cy="1253.7" r="13.1" fill="#fff" stroke="#ff7f00" stroke-width="3.0"/>
<circle cx="1218.8" cy="1255.1" r="13.1" fill="#fff" stroke="#ff7f00" stroke-width="3.0" stroke-opacity=".57"/>
<circle cx="1242.4" cy="1255.8" r="13.1" fill="#fff" stroke="#ff7f00" stroke-width="3.0"/>
<circle cx="1266.1" cy="1256.5" r="13.1" fill="#fff" stroke="#ff7f00" stroke-width="3.0"/>
<circle cx="1289.8" cy="1257.2" r="13.1" fill="#fff" stroke="#ff7f00" stroke-width="3.0"/>
<circle cx="1313.5" cy="1257.9" r="13.1" fill="#fff" stroke="#ff7f00" stroke-width="3.0"/>
<circle cx="1337.2" cy="1298.3" r="13.1" fill="#fff" fill-opacity=".5" stroke="#ff7f00" stroke-width="3.0"/>
<circle cx="1360.9" cy="1298.3" r="13.1" fill="#fff" stroke="#ff7f00" stroke-width="3.0" stroke-opacity=".57"/>
<circle cx="1384.6" cy="1298.3" r="13.1" fill="#fff" stroke="#ff7f00" stroke-width="3.0" stroke-opacity=".57"/>
<circle cx="1408.2" cy="1298.3" r="13.1" fill="#fff" stroke="#ff7f00" stroke-width="3.0"/>
<circle cx="1431.9" cy="1298.3" r="13.1" fill="#fff" stroke="#ff7f00" stroke-width="3.0"/>
<circle cx="1455.6" cy="1298.3" r="13.1" fill="#fff" stroke="#ff7f00" stroke-width="3.0"/>
<circle cx="1479.3" cy="1298.3" r="13.1" fill="#fff" stroke="#ff7f00" stroke-width="3.0"/>
<circle cx="1503.0" cy="1298.3" r="13.1" fill="#fff" stroke="#ff7f00" stroke-width="3.0" stroke-opacity=".57"/>
<circle cx="1526.7" cy="1298.3" r="13.1" fill="#fff" stroke="#ff7f00" stroke-width="3.0"/>
<circle cx="1550.4" cy="1298.3" r="13.1" fill="#fff" stroke="#ff7f00" stroke-width="3.0"/>
<circle cx="1574.0" cy="1298.3" r="13.1" fill="#fff" stroke="#ff7f00" stroke-width="3.0"/>
<circle cx="1597.7" cy="1298.3" r="13.1" fill="#fff" fill-opacity=".5" stroke="#ff7f00" stroke-width="3.0"/>
<circle cx="1621.4" cy="1298.3" r="13.1" fill="#fff" fill-opacity=".5" stroke="#ff7f00" stroke-width="3.0"/>
<circle cx="1645.1" cy="1298.3" r="13.1" fill="#fff" fill-opacity=".5" stroke="#ff7f00" stroke-width="3.0"/>
<circle cx="1668.8" cy="1298.3" r="13.1" fill="#fff" fill-opacity=".5" stroke="#ff7f00" stroke-width="3.0"/>
<circle cx="1692.5" cy="1298.3" r="13.1" fill="#fff" stroke="#ff7f00" stroke-width="3.0"/>
<circle cx="1716.2" cy="1298.3" r="13.1" fill="#fff" stroke="#ff7f00" stroke-width="3.0" stroke-opacity=".57"/>
<circle cx="1739.8" cy="1298.3" r="13.1" fill="#fff" stroke="#ff7f00" stroke-width="3.0"/>
<circle cx="1763.5" cy="1298.3" r="13.1" fill="#fff" stroke="#ff7f00" stroke-width="3.0"/>
<circle cx="1787.2" cy="1298.3" r="13.1" fill="#fff" stroke="#ff7f00" stroke-width="3.0" stroke-opacity=".57"/>
<circle cx="1810.9" cy="394.0" r="13.1" fill="#fff" fill-opacity=".5" stroke="#ff7f00" stroke-width="3.0"/>
<circle cx="1834.6" cy="434.5" r="13.1" fill="#fff" stroke="#ff7f00" stroke-width="3.0"/>
<circle cx="1858.3" cy="435.2" r="13.1" fill="#fff" stroke="#ff7f00" stroke-width="3.0" stroke-opacity=".57"/>
<circle cx="1882.0" cy="440.7" r="13.1" fill="#fff" stroke="#ff7f00" stroke-width="3.0"/>
<circle cx="1905.6" cy="444.2" r="13.1" fill="#fff" stroke="#ff7f00" stroke-width="3.0"/>
</g>
</svg>
</body></html>
